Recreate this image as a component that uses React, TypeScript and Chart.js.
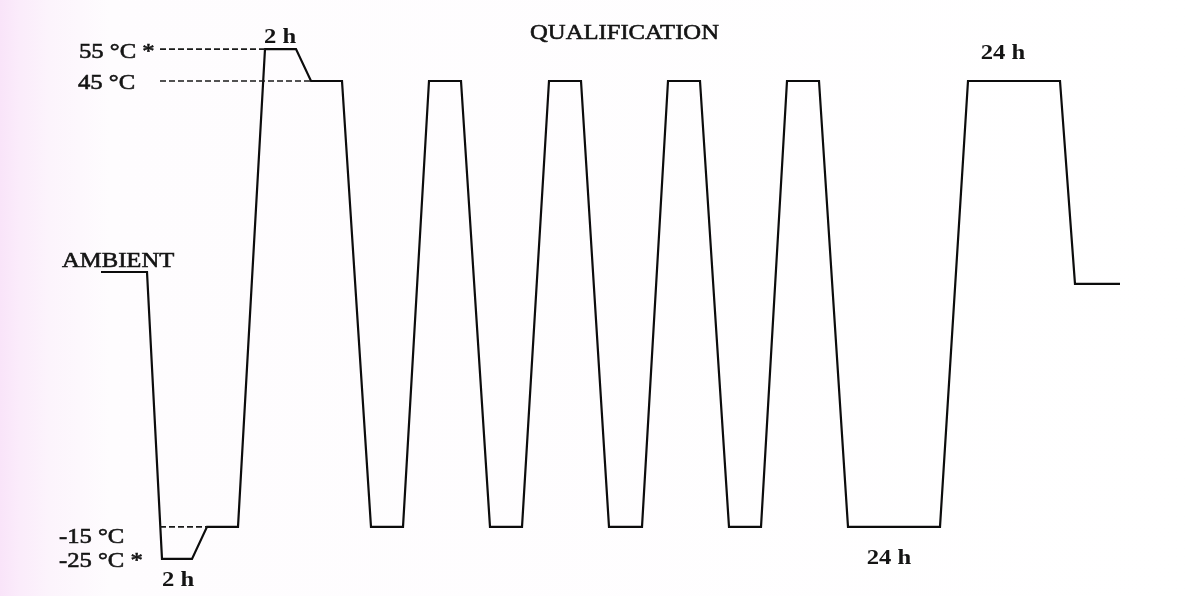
import React, { useEffect, useRef } from "react";
import { Chart, registerables } from "chart.js";

Chart.register(...registerables);

// Schematic time positions of the profile's corners (arbitrary time units)
const profileTime = [
  10.1, 14.7, 16.2, 19.2, 20.7, 23.8, 26.5, 29.6, 31.1, 34.2,
  37.1, 40.3, 42.9, 46.1, 49.0, 52.2, 54.9, 58.1, 60.9, 64.2,
  66.8, 70.0, 72.9, 76.1, 78.7, 81.9, 84.8, 94.0, 96.8, 106.0,
  107.5, 112.0,
];
// Temperature (°C) at each corner
const profileTemp = [
  19.3, 19.3, -25, -25, -15, -15, 55, 55, 45, 45,
  -15, -15, 45, 45, -15, -15, 45, 45, -15, -15,
  45, 45, -15, -15, 45, 45, -15, -15, 45, 45,
  17.7, 17.7,
];

// Dashed reference lines
const refTemps = [55, 45, -15];
const refStart = [16.0, 16.0, 16.0];
const refEnd = [26.5, 31.1, 20.7];

// Text labels
const labelTexts = [
  "QUALIFICATION", "55 °C *", "45 °C", "AMBIENT", "-15 °C", "-25 °C *",
  "2 h", "2 h", "24 h", "24 h",
];

// Schematic (non-linear) drawing level: extremes beyond 45 / -15 are compressed
const K = 0.43;
function level(t: number): number {
  if (t > 45) return 45 + (t - 45) * K;
  if (t < -15) return -15 + (t + 15) * K;
  return t;
}

// Label placement (x in time units, y in level units), kept apart from data
const labelPos: { x: number; y: number; align: CanvasTextAlign; bold: boolean }[] = [
  { x: 62.45, y: 50.65, align: "center", bold: false },
  { x: 7.9, y: 48.1, align: "left", bold: false },
  { x: 7.8, y: 43.9, align: "left", bold: false },
  { x: 6.2, y: 19.97, align: "left", bold: false },
  { x: 5.9, y: -17.17, align: "left", bold: false },
  { x: 5.9, y: -20.4, align: "left", bold: false },
  { x: 28.0, y: 50.11, align: "center", bold: true },
  { x: 17.8, y: -22.95, align: "center", bold: true },
  { x: 100.3, y: 47.96, align: "center", bold: true },
  { x: 88.9, y: -19.99, align: "center", bold: true },
];

const labelPlugin = {
  id: "schematicLabels",
  afterDatasetsDraw(chart: any) {
    const { ctx, scales } = chart;
    ctx.save();
    ctx.fillStyle = "#141414";
    ctx.strokeStyle = "#141414";
    ctx.lineWidth = 0.6;
    ctx.textBaseline = "alphabetic";
    labelTexts.forEach((txt, i) => {
      const p = labelPos[i];
      const px = scales.x.getPixelForValue(p.x);
      const py = scales.y.getPixelForValue(p.y);
      ctx.save();
      ctx.translate(px, py);
      ctx.scale(1.12, 1);
      ctx.font = `${p.bold ? "bold " : ""}22px "Liberation Serif", "Times New Roman", serif`;
      ctx.textAlign = p.align;
      ctx.fillText(txt, 0, 0);
      if (!p.bold) ctx.strokeText(txt, 0, 0);
      ctx.restore();
    });
    ctx.restore();
  },
};

export default function App() {
  const canvasRef = useRef<HTMLCanvasElement | null>(null);

  useEffect(() => {
    if (!canvasRef.current) return;
    const profile = profileTime.map((x, i) => ({ x, y: level(profileTemp[i]) }));
    const refSets = refTemps.map((t, i) => ({
      data: [
        { x: refStart[i], y: level(t) },
        { x: refEnd[i], y: level(t) },
      ],
      borderColor: "#1a1a1a",
      borderWidth: 1.7,
      borderDash: [6, 3],
      pointRadius: 0,
      tension: 0,
    }));
    const chart = new Chart(canvasRef.current, {
      type: "line",
      data: {
        datasets: [
          ...refSets,
          {
            data: profile,
            borderColor: "#0c0c0c",
            borderWidth: 2.2,
            pointRadius: 0,
            tension: 0,
            borderJoinStyle: "miter",
          },
        ],
      } as any,
      options: {
        animation: false,
        responsive: false,
        maintainAspectRatio: false,
        layout: { padding: 0 },
        plugins: {
          legend: { display: false },
          tooltip: { enabled: false },
        },
        scales: {
          x: { type: "linear", min: 0, max: 119.4, display: false },
          y: { type: "linear", min: -24.3, max: 55.9, display: false },
        },
      },
      plugins: [labelPlugin],
    });
    return () => chart.destroy();
  }, []);

  return (
    <div
      style={{
        position: "absolute",
        left: 0,
        top: 0,
        width: 1194,
        height: 596,
        background:
          "linear-gradient(to right, #f9e4f9 0px, #fbecfb 20px, #fcf4fc 50px, #fefcfe 110px, #ffffff 100%)",
      }}
    >
      <canvas ref={canvasRef} width={1194} height={596} style={{ display: "block" }} />
    </div>
  );
}
